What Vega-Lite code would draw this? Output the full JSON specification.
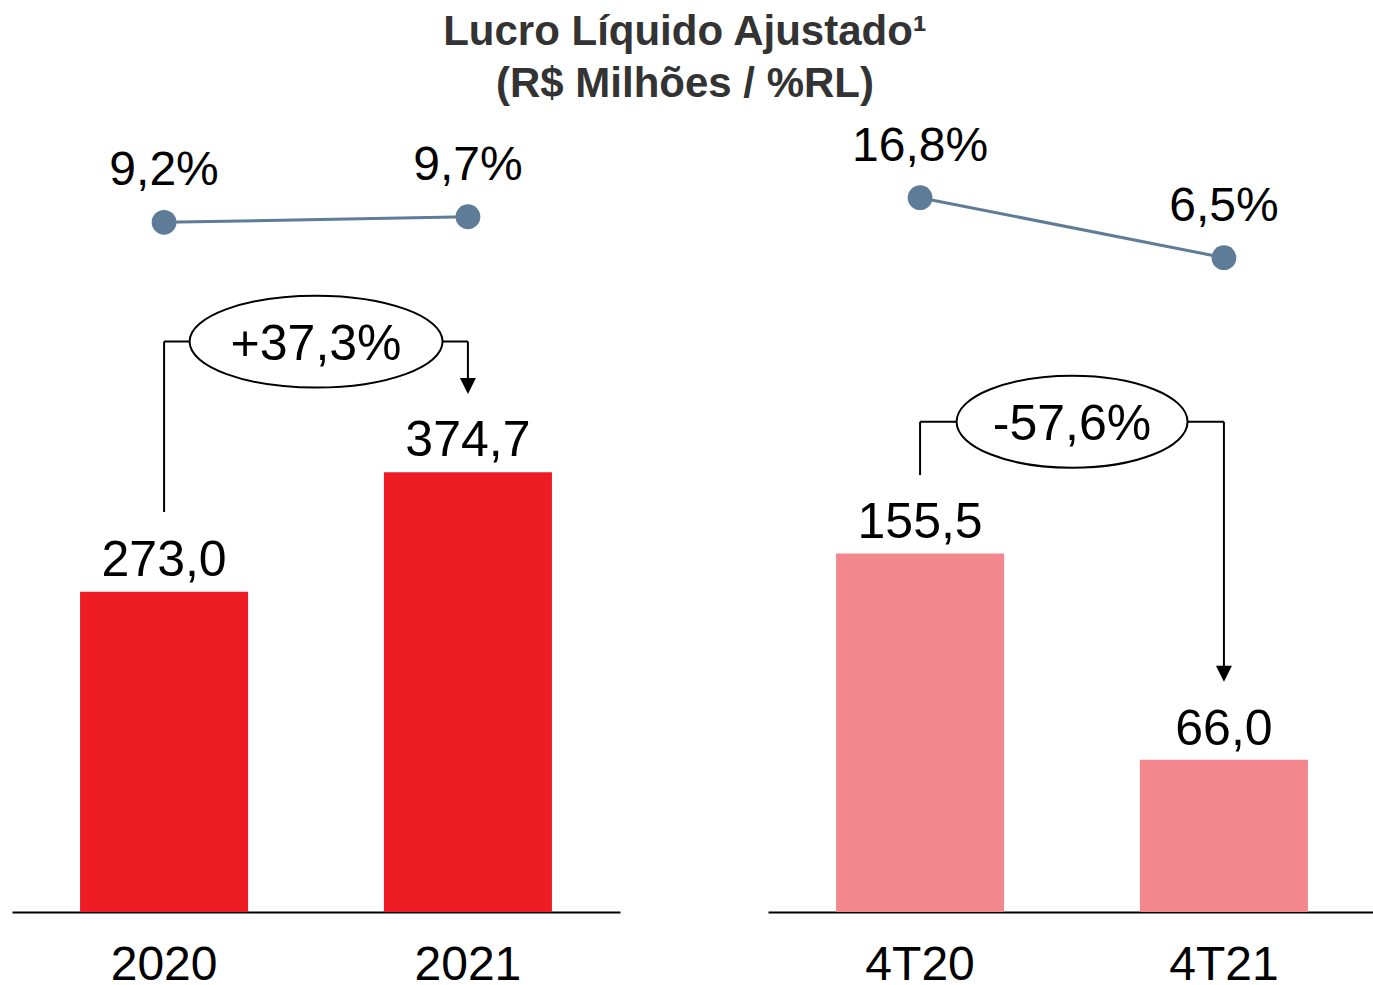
{
  "$schema": "https://vega.github.io/schema/vega-lite/v6.json",
  "background": "white",
  "padding": {"left": 12, "top": 11, "right": 0, "bottom": 0},
  "title": {
    "text": ["Lucro Líquido Ajustado¹", "(R$ Milhões / %RL)"],
    "font": "Liberation Sans",
    "fontSize": 42,
    "fontWeight": "bold",
    "color": "#333333",
    "lineHeight": 52,
    "anchor": "middle",
    "offset": 4,
    "dx": -9
  },
  "spacing": 148,
  "hconcat": [
    {
      "width": 608,
      "height": 802,
      "resolve": {"scale": {"y": "independent"}},
      "layer": [
        {
          "data": {"values": [
            {"ano": "2020", "lucro": 273.0, "margem": 0.092},
            {"ano": "2021", "lucro": 374.7, "margem": 0.097}
          ]},
          "layer": [
            {
              "mark": {"type": "bar", "color": "#ED1C24"},
              "encoding": {
                "x": {"field": "ano", "type": "nominal", "scale": {"paddingInner": 0.447, "paddingOuter": 0.224}, "axis": {"title": null}},
                "y": {"field": "lucro", "type": "quantitative", "scale": {"domain": [0, 683.5], "nice": false, "zero": false}, "axis": null}
              }
            },
            {
              "mark": {"type": "text", "baseline": "alphabetic", "dy": -16, "fontSize": 50, "color": "black"},
              "encoding": {
                "x": {"field": "ano", "type": "nominal"},
                "y": {"field": "lucro", "type": "quantitative", "axis": null},
                "text": {"field": "lucro", "type": "quantitative", "format": ".1f"}
              }
            }
          ]
        },
        {
          "data": {"values": [
            {"de": "2020", "para": "2021", "variacao": 0.373}
          ]},
          "layer": [
            {
              "mark": {"type": "rule", "color": "black", "strokeWidth": 2},
              "encoding": {
                "x": {"field": "de", "type": "nominal"},
                "y": {"datum": 340.9, "type": "quantitative", "scale": {"domain": [0, 683.5], "nice": false, "zero": false}, "axis": null},
                "y2": {"datum": 486.1}
              }
            },
            {
              "mark": {"type": "rule", "color": "black", "strokeWidth": 2},
              "encoding": {
                "x": {"field": "de", "type": "nominal"},
                "x2": {"field": "para"},
                "y": {"datum": 486.1, "type": "quantitative", "axis": null}
              }
            },
            {
              "mark": {"type": "rule", "color": "black", "strokeWidth": 2},
              "encoding": {
                "x": {"field": "para", "type": "nominal"},
                "y": {"datum": 486.1, "type": "quantitative", "axis": null},
                "y2": {"datum": 447}
              }
            },
            {
              "mark": {"type": "point", "shape": "M -1 -2 L 1 -2 L 0 0 Z", "size": 256, "filled": true, "color": "black", "opacity": 1},
              "encoding": {
                "x": {"field": "para", "type": "nominal"},
                "y": {"datum": 441.5, "type": "quantitative", "axis": null}
              }
            },
            {
              "mark": {"type": "point", "shape": "M -1 0 A 1 0.3636 0 1 1 1 0 A 1 0.3636 0 1 1 -1 0 Z", "size": 64009, "filled": true, "fill": "white", "stroke": "black", "strokeWidth": 2, "opacity": 1, "xOffset": 152},
              "encoding": {
                "x": {"field": "de", "type": "nominal"},
                "y": {"datum": 486.1, "type": "quantitative", "axis": null}
              }
            },
            {
              "mark": {"type": "text", "baseline": "middle", "dy": 3, "fontSize": 50, "color": "black", "xOffset": 152},
              "encoding": {
                "x": {"field": "de", "type": "nominal"},
                "y": {"datum": 486.1, "type": "quantitative", "axis": null},
                "text": {"field": "variacao", "type": "quantitative", "format": "+.1%"}
              }
            }
          ]
        },
        {
          "data": {"values": [
            {"ano": "2020", "lucro": 273.0, "margem": 0.092},
            {"ano": "2021", "lucro": 374.7, "margem": 0.097}
          ]},
          "layer": [
            {
              "mark": {"type": "line", "color": "#5E7B98", "strokeWidth": 3},
              "encoding": {
                "x": {"field": "ano", "type": "nominal"},
                "y": {"field": "margem", "type": "quantitative", "scale": {"domain": [-0.5238, 0.1923], "nice": false, "zero": false}, "axis": null}
              }
            },
            {
              "mark": {"type": "point", "filled": true, "size": 615, "color": "#5E7B98", "opacity": 1},
              "encoding": {
                "x": {"field": "ano", "type": "nominal"},
                "y": {"field": "margem", "type": "quantitative", "axis": null}
              }
            },
            {
              "mark": {"type": "text", "baseline": "alphabetic", "dy": -37, "fontSize": 48, "color": "black"},
              "encoding": {
                "x": {"field": "ano", "type": "nominal"},
                "y": {"field": "margem", "type": "quantitative", "axis": null},
                "text": {"field": "margem", "type": "quantitative", "format": ".1%"}
              }
            }
          ]
        }
      ]
    },
    {
      "width": 608,
      "height": 802,
      "resolve": {"scale": {"y": "independent"}},
      "layer": [
        {
          "data": {"values": [
            {"trimestre": "4T20", "lucro": 155.5, "margem": 0.168},
            {"trimestre": "4T21", "lucro": 66.0, "margem": 0.065}
          ]},
          "layer": [
            {
              "mark": {"type": "bar", "color": "#F2888D"},
              "encoding": {
                "x": {"field": "trimestre", "type": "nominal", "scale": {"paddingInner": 0.447, "paddingOuter": 0.224}, "axis": {"title": null}},
                "y": {"field": "lucro", "type": "quantitative", "scale": {"domain": [0, 347.8], "nice": false, "zero": false}, "axis": null}
              }
            },
            {
              "mark": {"type": "text", "baseline": "alphabetic", "dy": -15, "fontSize": 50, "color": "black"},
              "encoding": {
                "x": {"field": "trimestre", "type": "nominal"},
                "y": {"field": "lucro", "type": "quantitative", "axis": null},
                "text": {"field": "lucro", "type": "quantitative", "format": ".1f"}
              }
            }
          ]
        },
        {
          "data": {"values": [
            {"de": "4T20", "para": "4T21", "variacao": -0.576}
          ]},
          "layer": [
            {
              "mark": {"type": "rule", "color": "black", "strokeWidth": 2},
              "encoding": {
                "x": {"field": "de", "type": "nominal"},
                "y": {"datum": 189.5, "type": "quantitative", "scale": {"domain": [0, 347.8], "nice": false, "zero": false}, "axis": null},
                "y2": {"datum": 212.6}
              }
            },
            {
              "mark": {"type": "rule", "color": "black", "strokeWidth": 2},
              "encoding": {
                "x": {"field": "de", "type": "nominal"},
                "x2": {"field": "para"},
                "y": {"datum": 212.6, "type": "quantitative", "axis": null}
              }
            },
            {
              "mark": {"type": "rule", "color": "black", "strokeWidth": 2},
              "encoding": {
                "x": {"field": "para", "type": "nominal"},
                "y": {"datum": 212.6, "type": "quantitative", "axis": null},
                "y2": {"datum": 103}
              }
            },
            {
              "mark": {"type": "point", "shape": "M -1 -2 L 1 -2 L 0 0 Z", "size": 256, "filled": true, "color": "black", "opacity": 1},
              "encoding": {
                "x": {"field": "para", "type": "nominal"},
                "y": {"datum": 99.9, "type": "quantitative", "axis": null}
              }
            },
            {
              "mark": {"type": "point", "shape": "M -1 0 A 1 0.3983 0 1 1 1 0 A 1 0.3983 0 1 1 -1 0 Z", "size": 53361, "filled": true, "fill": "white", "stroke": "black", "strokeWidth": 2, "opacity": 1, "xOffset": 152},
              "encoding": {
                "x": {"field": "de", "type": "nominal"},
                "y": {"datum": 212.6, "type": "quantitative", "axis": null}
              }
            },
            {
              "mark": {"type": "text", "baseline": "middle", "dy": 3, "fontSize": 50, "color": "black", "xOffset": 152},
              "encoding": {
                "x": {"field": "de", "type": "nominal"},
                "y": {"datum": 212.6, "type": "quantitative", "axis": null},
                "text": {"field": "variacao", "type": "quantitative", "format": "+.1%"}
              }
            }
          ]
        },
        {
          "data": {"values": [
            {"trimestre": "4T20", "lucro": 155.5, "margem": 0.168},
            {"trimestre": "4T21", "lucro": 66.0, "margem": 0.065}
          ]},
          "layer": [
            {
              "mark": {"type": "line", "color": "#5E7B98", "strokeWidth": 3},
              "encoding": {
                "x": {"field": "trimestre", "type": "nominal"},
                "y": {"field": "margem", "type": "quantitative", "scale": {"domain": [-1.0583, 0.3185], "nice": false, "zero": false}, "axis": null}
              }
            },
            {
              "mark": {"type": "point", "filled": true, "size": 615, "color": "#5E7B98", "opacity": 1},
              "encoding": {
                "x": {"field": "trimestre", "type": "nominal"},
                "y": {"field": "margem", "type": "quantitative", "axis": null}
              }
            },
            {
              "mark": {"type": "text", "baseline": "alphabetic", "dy": -37, "fontSize": 48, "color": "black"},
              "encoding": {
                "x": {"field": "trimestre", "type": "nominal"},
                "y": {"field": "margem", "type": "quantitative", "axis": null},
                "text": {"field": "margem", "type": "quantitative", "format": ".1%"}
              }
            }
          ]
        }
      ]
    }
  ],
  "config": {
    "font": "Liberation Sans",
    "view": {"stroke": null},
    "locale": {
      "number": {"decimal": ",", "thousands": ".", "grouping": [3], "currency": ["R$ ", ""], "minus": "-"}
    },
    "axis": {"grid": false},
    "axisX": {
      "domain": true,
      "domainColor": "black",
      "domainWidth": 2,
      "ticks": false,
      "tickSize": 0,
      "labelAngle": 0,
      "labelFont": "Liberation Sans",
      "labelFontSize": 48,
      "labelColor": "black",
      "labelBaseline": "alphabetic",
      "labelPadding": 67
    }
  }
}
